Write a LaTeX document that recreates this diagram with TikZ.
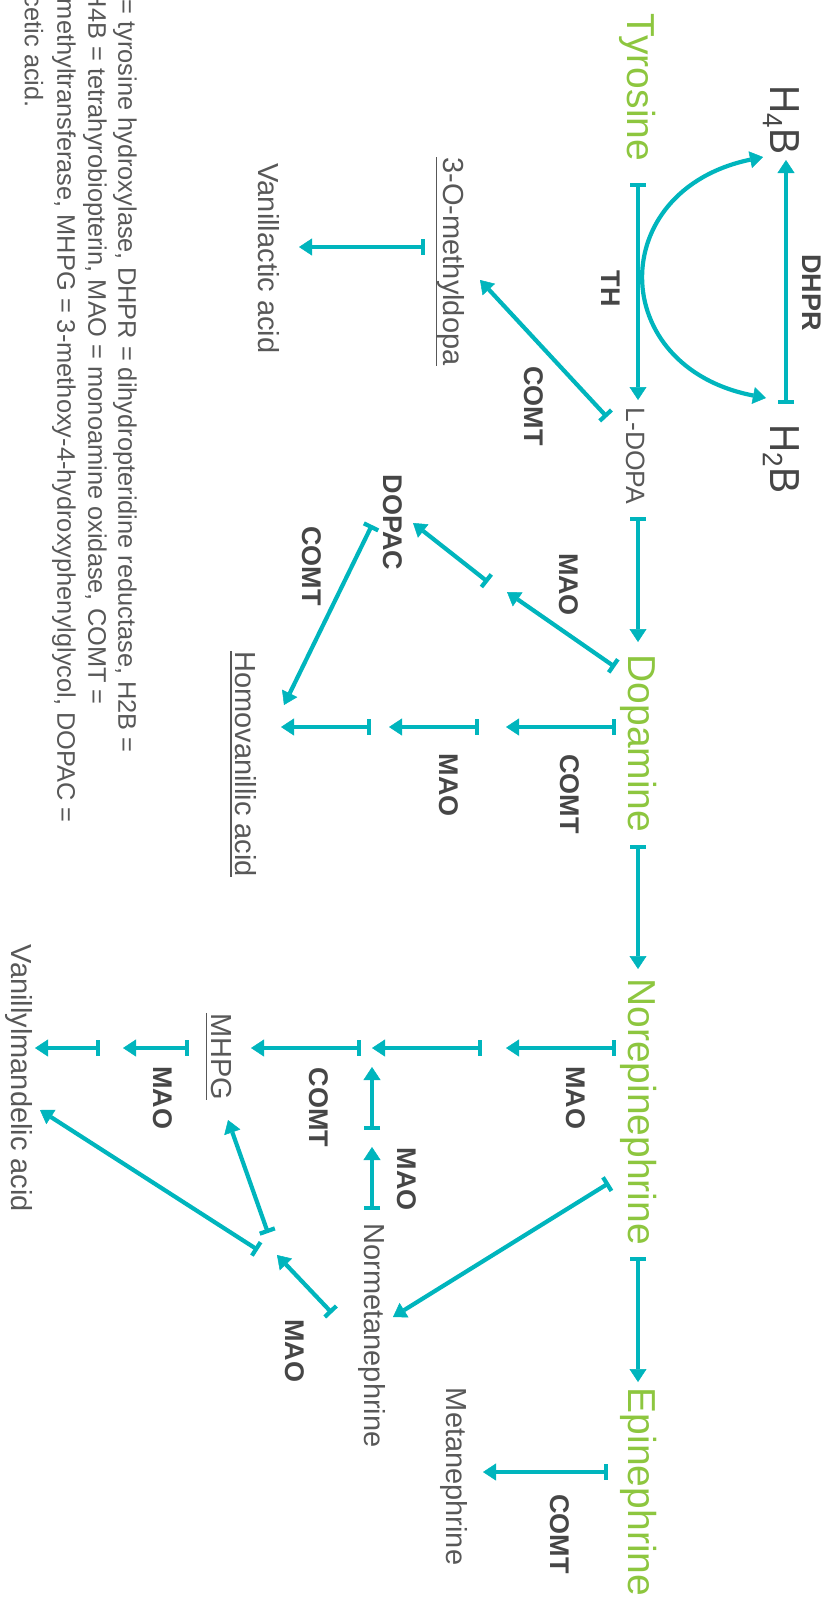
\documentclass[tikz,border=0pt]{standalone}
\usepackage{fontspec}
\setmainfont{Liberation Sans}
\usetikzlibrary{arrows.meta,calc}
\definecolor{gr}{RGB}{141,198,63}
\definecolor{tl}{RGB}{0,181,189}
\definecolor{tg}{RGB}{88,88,88}
\definecolor{tgd}{RGB}{70,70,70}
\begin{document}
\begin{tikzpicture}[x=1pt,y=-1pt,
  every node/.style={inner sep=0pt, rotate=-90},
  chem/.style={text=gr, font=\fontsize{39}{44}\selectfont},
  lbl/.style={text=tg, font=\fontsize{29}{34}\selectfont},
  enz/.style={text=tgd, font=\bfseries\fontsize{27}{32}\selectfont},
  cof/.style={text=tgd, font=\fontsize{42}{48}\selectfont},
  leg/.style={text=tg, font=\fontsize{25.4}{30}\selectfont, anchor=east},
  conn/.style={draw=tl, line width=4.2pt, {Bar[width=16pt]}-{Triangle[width=17pt,length=13pt,line width=0.5pt]}},
  dbl/.style={draw=tl, line width=4.2pt, {Triangle[width=17pt,length=13pt,line width=0.5pt]}-{Triangle[width=17pt,length=13pt,line width=0.5pt]}},
  ul/.style={draw=tg, line width=1.5pt}]
\useasboundingbox (0,0) rectangle (833,1601);
\clip (0,0) rectangle (833,1601);
% main compounds
\node[chem] (tyr) at (638,87.5) {Tyrosine};
\node[chem] (dop) at (639,743.5) {Dopamine};
\node[chem] (nor) at (639,1111.5) {Norepinephrine};
\node[chem] (epi) at (639,1492) {Epinephrine};
\node[lbl, font=\fontsize{26.5}{30}\selectfont] (ldopa) at (636,456) {L-DOPA};
\node[cof] (h4b) at (781,120) {\scalebox{0.93}[1]{H\raisebox{-0.17em}{\fontsize{28}{30}\selectfont 4}B}};
\node[cof] (h2b) at (781,459) {\scalebox{0.93}[1]{H\raisebox{-0.17em}{\fontsize{28}{30}\selectfont 2}B}};
% metabolites
\node[lbl] (md) at (451,261.5) {3-O-methyldopa};
\node[lbl] (vla) at (268.5,258.5) {Vanillactic acid};
\node[enz] (dopac) at (393,522.5) {DOPAC};
\node[lbl] (hva) at (245.5,764) {Homovanillic acid};
\node[lbl] (mhpg) at (221,1056.5) {MHPG};
\node[lbl] (vma) at (18.5,1078.5) {Vanillylmandelic acid};
\node[lbl] (normet) at (371.5,1335.5) {Normetanephrine};
\node[lbl] (met) at (453.5,1476.5) {Metanephrine};
% enzymes
\node[enz] (dhpr) at (811.5,292.5) {DHPR};
\node[enz] (th) at (611,288.5) {TH};
\node[enz] (comt1) at (534,406) {COMT};
\node[enz] (comt2) at (311.5,566) {COMT};
\node[enz] (mao1) at (568.5,584.5) {MAO};
\node[enz] (comt3) at (570,794) {COMT};
\node[enz] (mao2) at (448.5,785) {MAO};
\node[enz] (mao3) at (576,1097.5) {MAO};
\node[enz] (mao4) at (406.5,1179) {MAO};
\node[enz] (comt4) at (318.5,1107.5) {COMT};
\node[enz] (mao5) at (162.5,1097.5) {MAO};
\node[enz] (mao6) at (295,1350.5) {MAO};
\node[enz] (comt5) at (560,1534) {COMT};
% legend
\node[leg] (leg1) at (125,753) {= tyrosine hydroxylase, DHPR = dihydropteridine reductase, H2B =};
\node[leg] (leg2) at (95,705) {H4B = tetrahyrobiopterin, MAO = monoamine oxidase, COMT =};
\node[leg] (leg3) at (64,823) {methyltransferase, MHPG = 3-methoxy-4-hydroxyphenylglycol, DOPAC =};
\node[leg] (leg4) at (34,108) {cetic acid.};
% junctions
\coordinate (dopal) at (497.5,587);
\coordinate (j1) at (492.5,727);
\coordinate (j2) at (380,727);
\coordinate (k1) at (494,1048);
\coordinate (k2) at (372,1048);
\coordinate (k3) at (111.5,1048);
\coordinate (m1) at (372,1138.5);
\coordinate (n1) at (266,1247);
% connectors
\draw[conn] ($(tyr)+(0,95.5)$) -- ($(ldopa)+(2,-56)$);
\draw[conn] ($(h2b)+(5,-55)$) -- ($(h4b)+(5,40)$);
\draw[dbl] ($(h4b)+(-18,37)$) .. controls +(-158,33) and +(-160,-31) .. ($(h2b)+(-15,-61)$);
\draw[conn] ($(ldopa)+(-29,-39)$) -- ($(md)+(29,18.5)$);
\draw[conn] ($(md)+(-26,-14.5)$) -- ($(vla)+(30.5,-11.5)$);
\draw[conn] ($(ldopa)+(2,61)$) -- ($(dop)+(-1,-101.5)$);
\draw[conn] ($(dop)+(-24,-76.5)$) -- ($(dopal)+(9.5,5)$);
\draw[conn] ($(dopal)+(-9.5,-5)$) -- ($(dopac)+(20,0.5)$);
\draw[conn] ($(dopac)+(-21,2.5)$) -- ($(hva)+(38.5,-59)$);
\draw[conn] ($(dop)+(-23,-16.5)$) -- ($(j1)+(13.5,0)$);
\draw[conn] ($(j1)+(-13.5,0)$) -- ($(j2)+(9,0)$);
\draw[conn] ($(j2)+(-9,0)$) -- ($(hva)+(35.5,-37)$);
\draw[conn] ($(dop)+(-1,101.5)$) -- ($(nor)+(-1,-142.5)$);
\draw[conn] ($(nor)+(-23,-63.5)$) -- ($(k1)+(12,0)$);
\draw[conn] ($(k1)+(-12,0)$) -- (k2);
\draw[conn] ($(k2)+(-11,0)$) -- ($(mhpg)+(30,-8.5)$);
\draw[conn] ($(mhpg)+(-32,-8.5)$) -- ($(k3)+(11.5,0)$);
\draw[conn] ($(k3)+(-11.5,0)$) -- ($(vma)+(16.5,-30.5)$);
\draw[conn] ($(normet)+(0.5,-125.5)$) -- ($(m1)+(0,8.5)$);
\draw[conn] ($(m1)+(0,-8.5)$) -- ($(k2)+(0,19)$);
\draw[conn] ($(nor)+(-30,71.5)$) -- ($(normet)+(21.5,-18.5)$);
\draw[conn] ($(normet)+(-39.5,-22.5)$) -- ($(n1)+(11,8)$);
\draw[conn] ($(n1)+(2,-14)$) -- ($(mhpg)+(7,63.5)$);
\draw[conn] ($(n1)+(-8,3)$) -- ($(vma)+(21.5,31.5)$);
\draw[conn] ($(nor)+(-1,145.5)$) -- ($(epi)+(-1,-110)$);
\draw[conn] ($(epi)+(-31,-20)$) -- ($(met)+(29.5,-4.5)$);
% underlines
\draw[ul] ($(md.west)+(-14.5,0)$) -- ($(md.east)+(-14.5,0)$);
\draw[ul] ($(hva.west)+(-14.5,0)$) -- ($(hva.east)+(-14.5,0)$);
\draw[ul] ($(mhpg.west)+(-14.5,0)$) -- ($(mhpg.east)+(-14.5,0)$);
\end{tikzpicture}
\end{document}
